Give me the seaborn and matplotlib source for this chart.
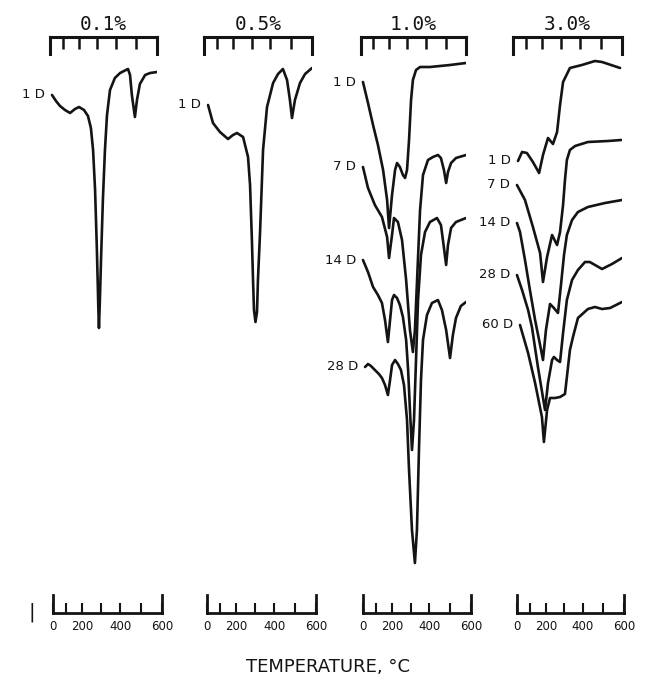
import matplotlib.pyplot as plt
import numpy as np
import pandas as pd
import seaborn as sns

sns.set_theme(style='white')
plt.rcParams['font.family'] = ['DejaVu Sans']

# DTA curves: temperature (deg C) vs. deflection (arbitrary units, 0 = top of chart)
CONCENTRATIONS = ['0.1%', '0.5%', '1.0%', '3.0%']

# 0.1 %
T_01_1D = [16, 48, 80, 115, 146, 176, 201, 228, 250, 266, 278, 289, 299, 307, 310, 315, 321,
           331, 342, 353, 369, 395, 421, 440, 460, 470, 479, 494, 504, 518, 543, 567, 600]
DT_01_1D = [-5.8, -6.4, -6.9, -7.3, -7.6, -7.2, -7.0, -7.3, -7.9, -9.1, -11.3, -15.3, -21.3,
            -27.3, -29.1, -26.3, -22.3, -16.3, -11.3, -7.8, -5.3, -4.1, -3.6, -3.4, -3.2,
            -3.8, -5.8, -8.0, -6.3, -4.7, -3.8, -3.6, -3.5]

# 0.5 %
T_05_1D = [32, 71, 120, 169, 199, 221, 254, 281, 292, 302, 308, 313, 321, 329, 334, 345, 361,
           382, 413, 437, 461, 481, 495, 505, 519, 543, 567, 600]
DT_05_1D = [-6.8, -8.6, -9.5, -10.2, -9.8, -9.6, -10.0, -12.0, -14.8, -20.3, -24.3, -27.3,
            -28.5, -27.5, -24.3, -19.6, -11.3, -7.0, -4.6, -3.7, -3.2, -4.3, -6.3, -8.1,
            -6.3, -4.6, -3.7, -3.1]

# 1.0 %
T_10_1D = [16, 57, 98, 129, 161, 186, 198, 215, 232, 243, 259, 276, 288, 299, 310, 321, 331,
           348, 370, 422, 472, 522, 600]
DT_10_1D = [-4.5, -6.6, -8.8, -10.8, -13.3, -16.3, -19.1, -15.8, -13.3, -12.6, -13.0, -13.8,
            -14.1, -13.3, -10.3, -6.3, -4.3, -3.3, -3.0, -3.0, -2.9, -2.8, -2.6]
T_10_7D = [16, 57, 110, 154, 186, 198, 215, 226, 248, 271, 294, 315, 331, 342, 353, 370, 386,
           412, 437, 462, 477, 492, 503, 512, 527, 551, 600]
DT_10_7D = [-13.0, -15.1, -16.8, -18.0, -20.0, -22.1, -19.8, -18.1, -18.5, -20.3, -24.3,
            -29.3, -31.5, -29.3, -24.6, -17.3, -13.8, -12.3, -12.0, -11.8, -12.1, -13.3,
            -14.6, -13.5, -12.6, -12.1, -11.8]
T_10_14D = [16, 57, 98, 129, 154, 173, 191, 204, 215, 226, 243, 259, 276, 294, 305, 315, 326,
            337, 348, 359, 375, 397, 422, 457, 477, 487, 503, 512, 527, 551, 600]
DT_10_14D = [-22.3, -23.5, -25.0, -25.8, -26.6, -28.3, -30.5, -28.3, -26.3, -25.8, -26.1,
             -26.8, -28.0, -30.3, -33.3, -37.3, -41.3, -38.3, -32.3, -26.3, -21.8, -19.5,
             -18.5, -18.1, -18.8, -20.3, -22.8, -20.8, -19.1, -18.5, -18.1]
T_10_28D = [33, 57, 81, 110, 135, 154, 173, 191, 204, 215, 232, 248, 265, 282, 299, 310, 326,
            342, 353, 364, 375, 386, 407, 432, 462, 482, 503, 522, 536, 551, 575, 600]
DT_10_28D = [-33.0, -32.7, -32.9, -33.3, -33.7, -34.1, -34.8, -35.8, -34.3, -32.8, -32.3,
             -32.7, -33.3, -34.8, -38.3, -43.3, -49.3, -52.6, -49.3, -41.3, -34.3, -30.3,
             -27.8, -26.6, -26.3, -27.3, -29.3, -32.1, -29.8, -28.1, -26.9, -26.5]

# 3.0 %
T_30_1D = [39, 71, 107, 143, 180, 203, 230, 257, 279, 295, 311, 347, 409, 472, 506, 591]
DT_30_1D = [-12.4, -11.5, -11.6, -12.5, -13.6, -11.8, -10.1, -10.7, -9.5, -6.8, -4.5, -3.1,
            -2.8, -2.4, -2.5, -3.1]
T_30_7D = [31, 94, 143, 186, 203, 225, 252, 279, 295, 311, 321, 331, 347, 374, 438, 534, 596]
DT_30_7D = [-14.8, -16.3, -19.0, -21.6, -24.5, -22.0, -19.8, -20.8, -19.5, -16.8, -14.3,
            -12.3, -11.3, -10.9, -10.5, -10.4, -10.3]
T_30_14D = [31, 55, 94, 125, 156, 186, 203, 219, 241, 262, 284, 300, 316, 331, 358, 389, 438,
            520, 600]
DT_30_14D = [-18.6, -19.5, -22.3, -25.3, -28.3, -30.8, -32.3, -29.3, -26.7, -27.1, -27.6,
             -24.8, -21.8, -19.8, -18.3, -17.5, -17.0, -16.6, -16.3]
T_30_28D = [31, 71, 114, 137, 173, 214, 230, 252, 262, 279, 295, 311, 331, 358, 389, 424, 447,
            506, 553, 600]
DT_30_28D = [-23.8, -25.3, -27.3, -29.0, -33.0, -37.3, -34.6, -32.3, -32.0, -32.3, -32.5,
             -29.6, -26.3, -24.3, -23.3, -22.5, -22.5, -23.2, -22.7, -22.1]
T_30_60D = [55, 114, 156, 197, 208, 225, 241, 268, 295, 321, 337, 347, 363, 389, 438, 472, 506,
            544, 600]
DT_30_60D = [-28.8, -31.6, -34.6, -38.0, -40.5, -37.3, -36.1, -36.1, -36.0, -35.7, -33.0,
             -31.3, -30.0, -28.1, -27.2, -27.0, -27.2, -27.1, -26.5]

CURVES = {
    '0.1%': [('1 D', T_01_1D, DT_01_1D)],
    '0.5%': [('1 D', T_05_1D, DT_05_1D)],
    '1.0%': [('1 D', T_10_1D, DT_10_1D), ('7 D', T_10_7D, DT_10_7D),
             ('14 D', T_10_14D, DT_10_14D), ('28 D', T_10_28D, DT_10_28D)],
    '3.0%': [('1 D', T_30_1D, DT_30_1D), ('7 D', T_30_7D, DT_30_7D),
             ('14 D', T_30_14D, DT_30_14D), ('28 D', T_30_28D, DT_30_28D),
             ('60 D', T_30_60D, DT_30_60D)],
}

# temperature scale of the recorder is not linear: tick temps and their fraction of width
SCALE_TEMPS = [0, 100, 200, 300, 400, 500, 600]
SCALE_FRACS = [0, 0.117, 0.27, 0.44, 0.615, 0.805, 1.0]
SCALE_LABELS = ['0', '', '200', '', '400', '', '600']

EXT_T = [-600] + SCALE_TEMPS + [1200]
EXT_F = [-1.0] + SCALE_FRACS + [2.0]


def fwd(t):
    return np.interp(t, EXT_T, EXT_F)


def inv(f):
    return np.interp(f, EXT_F, EXT_T)


# layout in pixels of the 647 x 682 figure
FIG_W, FIG_H = 647, 682
PANEL_X = [(50, 107), (204, 108), (361, 105), (513, 109)]
PANEL_TOP, PANEL_BOTTOM = 37, 580
SCALE_X = [(53, 109), (207, 109), (363, 108), (517, 107)]
SCALE_LINE, SCALE_H = 613, 18
INK = '#141414'

fig = plt.figure(figsize=(FIG_W / 100, FIG_H / 100), dpi=100)
fig.patch.set_facecolor('white')

for conc, (x0, w) in zip(CONCENTRATIONS, PANEL_X):
    ax = fig.add_axes([x0 / FIG_W, 1 - PANEL_BOTTOM / FIG_H, w / FIG_W,
                       (PANEL_BOTTOM - PANEL_TOP) / FIG_H])
    for label, temps, dts in CURVES[conc]:
        df = pd.DataFrame({'temp': temps, 'dt': dts})
        sns.lineplot(data=df, x='temp', y='dt', sort=False, estimator=None,
                     color=INK, lw=1.9, solid_joinstyle='round', solid_capstyle='round', ax=ax)
        ax.annotate(label, (temps[0], dts[0]), xytext=(-5, 0), textcoords='offset points',
                    ha='right', va='center', fontsize=9.5, color=INK)
    ax.set_xscale('function', functions=(fwd, inv))
    ax.set_xlim(0, 600)
    ax.set_ylim(-54.3, 0)
    ax.set_xticks(SCALE_TEMPS)
    ax.set_yticks([])
    ax.xaxis.tick_top()
    ax.tick_params(axis='x', top=True, bottom=False, direction='in', length=8.5, width=1.8,
                   color=INK, labeltop=False, labelbottom=False)
    ax.spines['bottom'].set_visible(False)
    for side in ('left', 'right'):
        ax.spines[side].set_bounds(-1.7, 0)
    for sp in ax.spines.values():
        sp.set_linewidth(2.2)
        sp.set_color(INK)
    ax.set_xlabel('')
    ax.set_ylabel('')
    ax.patch.set_alpha(0)
    ax.set_title(conc, family='DejaVu Sans Mono', fontsize=14, pad=5, color=INK)

for x0, w in SCALE_X:
    bx = fig.add_axes([x0 / FIG_W, 1 - SCALE_LINE / FIG_H, w / FIG_W, SCALE_H / FIG_H])
    bx.set_xscale('function', functions=(fwd, inv))
    bx.set_xlim(0, 600)
    bx.set_ylim(0, 1)
    bx.set_xticks(SCALE_TEMPS)
    bx.set_xticklabels(SCALE_LABELS)
    bx.set_yticks([])
    bx.tick_params(axis='x', bottom=True, direction='in', length=7, width=1.5, color=INK,
                   pad=5, labelsize=8.5, labelcolor=INK)
    bx.spines['top'].set_visible(False)
    for sp in bx.spines.values():
        sp.set_linewidth(2)
        sp.set_color(INK)
    bx.patch.set_alpha(0)

fig.text(32 / FIG_W, 1 - 612 / FIG_H, '|', ha='center', va='center', fontsize=14, color=INK)
fig.text(328 / FIG_W, 1 - 667 / FIG_H, 'TEMPERATURE, °C', ha='center', va='center',
         fontsize=13, color=INK)

fig.savefig('out.png', dpi=100, facecolor='white')
